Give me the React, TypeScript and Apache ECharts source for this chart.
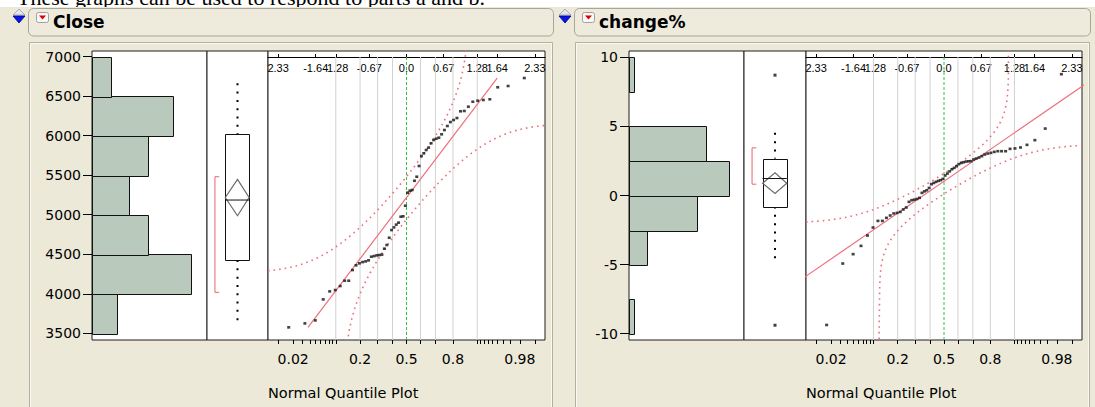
import React, { useEffect, useRef } from "react";
import * as echarts from "echarts";

// ---------------- data ----------------
const TOP_TEXT = "These graphs can be used to respond to parts a and b.";

const closeBinEdges = [3500, 4000, 4500, 5000, 5500, 6000, 6500, 7000];
const closeBinCounts = [4, 16, 9, 6, 9, 13, 3];
const closeValues = [
  3575, 3625, 3663, 3929, 4030, 4047, 4098, 4165, 4165, 4300, 4360, 4385, 4401, 4410, 4423,
  4469, 4477, 4486, 4490, 4495, 4570, 4617, 4709, 4806, 4840, 4875, 4900, 4975, 4980, 5114,
  5279, 5304, 5313, 5430, 5481, 5617, 5743, 5777, 5819, 5850, 5904, 5946, 5962, 5975, 6018,
  6072, 6123, 6173, 6199, 6224, 6309, 6313, 6367, 6430, 6443, 6452, 6461, 6613, 6629, 6730,
];
const closeBox = [3595, 4427, 5186, 6025, 6663]; // whisker low, q1, median, q3, whisker high
const closeMeanDiamond = [4987, 5218, 5448];
const closeShortestHalf = [4018, 5481];
const closeOutliers: number[] = [];
const closeFit = [5218, 920]; // mean, sd of the fitted line
const closeBand = [5211, 830, 0.128]; // centre, scale, d of the confidence band
const closeYTicks = [3500, 4000, 4500, 5000, 5500, 6000, 6500, 7000];

const changeBinEdges = [-10, -7.5, -5, -2.5, 0, 2.5, 5, 7.5, 10];
const changeBinCounts = [1, 0, 4, 15, 22, 17, 0, 1];
const changeValues = [
  -9.38, -4.93, -4.25, -3.65, -2.9, -2.32, -1.84, -1.84, -1.62, -1.45, -1.3, -1.26, -1.19, -1.01,
  -0.87, -0.46, -0.34, -0.3, -0.25, -0.17, 0.19, 0.3, 0.38, 0.55, 0.82, 0.91, 0.99, 1.06, 1.11,
  1.2, 1.45, 1.59, 1.75, 1.9, 2.0, 2.12, 2.27, 2.36, 2.41, 2.46, 2.48, 2.49, 2.61, 2.68, 2.75,
  2.85, 2.97, 3.04, 3.09, 3.16, 3.21, 3.21, 3.21, 3.38, 3.41, 3.48, 3.67, 4.01, 4.85, 8.79,
];
const changeBox = [-4.88, -0.8, 1.23, 2.68, 4.54];
const changeMeanDiamond = [0.14, 0.89, 1.64];
const changeShortestHalf = [0.82, 3.45];
const changeOutliers = [-9.4, 8.72];
const changeFit = [1.03, 2.74];
const changeBand = [0.855, 2.42, 0.12];
const changeYTicks = [-10, -5, 0, 5, 10];

const quantileTickValues = [-2.326, -1.645, -1.282, -0.674, 0, 0.674, 1.282, 1.645, 2.326];
const quantileTickLabels = ["2.33", "-1.64", "-1.28", "-0.67", "0.0", "0.67", "1.28", "1.64", "2.33"];
const probTickValues = [
  0.01, 0.02, 0.03, 0.04, 0.05, 0.06, 0.07, 0.08, 0.09, 0.1, 0.2, 0.3, 0.4, 0.5, 0.6, 0.7, 0.8,
  0.9, 0.91, 0.92, 0.93, 0.94, 0.95, 0.96, 0.97, 0.98, 0.99,
];
const probLabelValues = [0.02, 0.2, 0.5, 0.8, 0.98];
const probLabelTexts = ["0.02", "0.2", "0.5", "0.8", "0.98"];
const probGridValues = [0.1, 0.2, 0.3, 0.4, 0.6, 0.7, 0.8, 0.9];
const probCentre = 0.5;

// ---------------- helpers ----------------
function qnorm(p: number): number {
  const a = [-39.69683028665376, 220.9460984245205, -275.9285104469687, 138.357751867269, -30.66479806614716, 2.506628277459239];
  const b = [-54.47609879822406, 161.5858368580409, -155.6989798598866, 66.80131188771972, -13.28068155288572];
  const c = [-0.007784894002430293, -0.3223964580411365, -2.400758277161838, -2.549732539343734, 4.374664141464968, 2.938163982698783];
  const d = [0.007784695709041462, 0.3224671290700398, 2.445134137142996, 3.754408661907416];
  const pl = 0.02425;
  if (p < pl) {
    const q = Math.sqrt(-2 * Math.log(p));
    return (((((c[0] * q + c[1]) * q + c[2]) * q + c[3]) * q + c[4]) * q + c[5]) / ((((d[0] * q + d[1]) * q + d[2]) * q + d[3]) * q + 1);
  }
  if (p > 1 - pl) {
    const q = Math.sqrt(-2 * Math.log(1 - p));
    return -(((((c[0] * q + c[1]) * q + c[2]) * q + c[3]) * q + c[4]) * q + c[5]) / ((((d[0] * q + d[1]) * q + d[2]) * q + d[3]) * q + 1);
  }
  const q = p - 0.5;
  const r = q * q;
  return ((((((a[0] * r + a[1]) * r + a[2]) * r + a[3]) * r + a[4]) * r + a[5]) * q) / (((((b[0] * r + b[1]) * r + b[2]) * r + b[3]) * r + b[4]) * r + 1);
}
function pnorm(z: number): number {
  const t = 1 / (1 + 0.2316419 * Math.abs(z));
  const dd = 0.3989423 * Math.exp((-z * z) / 2);
  const pr = dd * t * (0.3193815 + t * (-0.3565638 + t * (1.781478 + t * (-1.821256 + t * 1.330274))));
  return z > 0 ? 1 - pr : pr;
}
function nearestLabel(v: number, vals: number[], labels: string[]) {
  let bi = 0;
  let bd = Infinity;
  vals.forEach((x, i) => {
    const dd = Math.abs(x - v);
    if (dd < bd) { bd = dd; bi = i; }
  });
  return labels[bi];
}

const Z_MIN = -2.51;
const Z_MAX = 2.51;
const TOP = 51;
const H = 289;
const PINK = "#EF6E7C";
const SANS = "DejaVu Sans";

type Spec = {
  histLeft: number; histWidth: number; boxWidth: number; qqWidth: number;
  yMin: number; yMax: number; yTicks: number[]; histMax: number;
  edges: number[]; counts: number[]; values: number[];
  box: number[]; diamond: number[]; shortest: number[]; outliers: number[];
  fit: number[]; band: number[];
};

function buildPanel(s: Spec, gi: number, xi: number, yi: number) {
  const boxLeft = s.histLeft + s.histWidth;
  const qqLeft = boxLeft + s.boxWidth;
  const grids = [
    { left: s.histLeft, top: TOP, width: s.histWidth, height: H },
    { left: boxLeft, top: TOP, width: s.boxWidth, height: H },
    { left: qqLeft, top: TOP, width: s.qqWidth, height: H },
  ].map((g) => ({ ...g, show: true, backgroundColor: "#ffffff", borderColor: "#1e1e1e", borderWidth: 1, containLabel: false, outerBoundsMode: "none" }));

  const xAxes = [
    { gridIndex: gi, type: "value", min: 0, max: s.histMax, show: false, axisLine: { onZero: false } },
    { gridIndex: gi + 1, type: "value", min: 0, max: 1, show: false, axisLine: { onZero: false } },
    {
      gridIndex: gi + 2, type: "value", position: "top", offset: -6, min: Z_MIN, max: Z_MAX,
      axisLine: { show: true, onZero: false, lineStyle: { color: "#000", width: 1 } },
      axisTick: { show: true, inside: false, length: 3, customValues: quantileTickValues, lineStyle: { color: "#000" } },
      axisLabel: {
        show: true, inside: true, margin: 5, customValues: quantileTickValues,
        formatter: (v: number) => nearestLabel(v, quantileTickValues, quantileTickLabels),
        fontSize: 11, fontFamily: "Liberation Sans", color: "#000",
      },
      splitLine: { show: false },
    },
    {
      gridIndex: gi + 2, type: "value", position: "bottom", min: Z_MIN, max: Z_MAX,
      axisLine: { show: false, onZero: false },
      axisTick: { show: true, length: 4, customValues: probTickValues.map(qnorm), lineStyle: { color: "#000" } },
      axisLabel: {
        show: true, margin: 12, customValues: probLabelValues.map(qnorm),
        formatter: (v: number) => nearestLabel(v, probLabelValues.map(qnorm), probLabelTexts),
        fontSize: 14, fontFamily: SANS, color: "#000",
      },
      splitLine: { show: false },
    },
  ];
  const yAxes = [
    {
      gridIndex: gi, type: "value", min: s.yMin, max: s.yMax,
      axisLine: { show: false, onZero: false },
      axisTick: { show: true, length: 9, customValues: s.yTicks, lineStyle: { color: "#000" } },
      axisLabel: { customValues: s.yTicks, formatter: (v: number) => String(v), fontSize: 14, fontFamily: SANS, color: "#000", margin: 11 },
      splitLine: { show: false },
    },
    { gridIndex: gi + 1, type: "value", min: s.yMin, max: s.yMax, show: false, axisLine: { show: false, onZero: false }, splitLine: { show: false } },
    { gridIndex: gi + 2, type: "value", min: s.yMin, max: s.yMax, show: false, axisLine: { show: false, onZero: false }, splitLine: { show: false } },
  ];

  const histData = s.counts
    .map((c, i) => [s.edges[i], s.edges[i + 1], c])
    .filter((d) => d[2] > 0);
  const n = s.values.length;
  const points = s.values.map((v, i) => [qnorm((i + 1) / (n + 1)), v]);
  const [fm, fsd] = s.fit;
  const vMin = Math.min(...s.values);
  const vMax = Math.max(...s.values);
  const fitData = [[(vMin - fm) / fsd, vMin], [(vMax - fm) / fsd, vMax]];
  const [bc, bs, bd] = s.band;
  const upper: number[][] = [];
  const lower: number[][] = [];
  for (let k = 0; k <= 502; k++) {
    const z = Z_MIN + k * 0.01;
    const p = pnorm(z);
    upper.push([z, bc + bs * qnorm(Math.min(p + bd, 1 - 1e-9))]);
    lower.push([z, bc + bs * qnorm(Math.max(p - bd, 1e-9))]);
  }
  const yTopLine = s.yMax - (s.yMax - s.yMin) * (6 / H);
  const centreZ = qnorm(probCentre);

  const series: any[] = [
    {
      type: "custom", xAxisIndex: xi, yAxisIndex: yi, silent: true, z: 3, data: histData,
      renderItem: (_p: any, api: any) => {
        const a = api.coord([0, api.value(1)]);
        const b = api.coord([api.value(2), api.value(0)]);
        return {
          type: "rect",
          shape: { x: Math.round(a[0]) + 0.5, y: Math.round(a[1]) + 0.5, width: Math.round(b[0] - a[0]), height: Math.round(b[1] - a[1]) },
          style: { fill: "#B9C9BB", stroke: "#111", lineWidth: 1 },
        };
      },
    },
    {
      type: "custom", xAxisIndex: xi + 1, yAxisIndex: yi + 1, silent: true, z: 3,
      data: [[0.5, s.box[2]]],
      renderItem: (_p: any, api: any) => {
        const [wLo, q1, med, q3, wHi] = s.box;
        const [dLo, mean, dHi] = s.diamond;
        const [sLo, sHi] = s.shortest;
        const c = (x: number, y: number) => api.coord([x, y]);
        const L = 0.3, R = 0.69, M = 0.5, BL = 0.13, BR = 0.2;
        const tl = c(L, q3), br = c(R, q1);
        const mTop = c(M, wHi), mQ3 = c(M, q3), mQ1 = c(M, q1), mBot = c(M, wLo);
        return {
          type: "group",
          children: [
            { type: "polyline", shape: { points: [c(BR, sHi), c(BL, sHi), c(BL, sLo), c(BR, sLo)] }, style: { stroke: "#F0606E", lineWidth: 1, fill: null } },
            { type: "line", shape: { x1: mTop[0], y1: mTop[1], x2: mQ3[0], y2: mQ3[1] }, style: { stroke: "#000", lineWidth: 2, lineDash: [2, 6.3] } },
            { type: "line", shape: { x1: mQ1[0], y1: mQ1[1], x2: mBot[0], y2: mBot[1] }, style: { stroke: "#000", lineWidth: 2, lineDash: [2, 6.3] } },
            { type: "rect", shape: { x: Math.round(tl[0]) + 0.5, y: Math.round(tl[1]) + 0.5, width: Math.round(br[0] - tl[0]), height: Math.round(br[1] - tl[1]) }, style: { fill: "#fff", stroke: "#111", lineWidth: 1 } },
            { type: "polygon", shape: { points: [c(L, mean), c(M, dHi), c(R, mean), c(M, dLo)] }, style: { fill: null, stroke: "#6b6b6b", lineWidth: 1.2 } },
            { type: "line", shape: { x1: c(L, med)[0], y1: c(L, med)[1], x2: c(R, med)[0], y2: c(R, med)[1] }, style: { stroke: "#111", lineWidth: 1 } },
          ],
        };
      },
    },
    {
      type: "scatter", xAxisIndex: xi + 1, yAxisIndex: yi + 1, silent: true, z: 4,
      symbol: "rect", symbolSize: [3, 3], itemStyle: { color: "#111" },
      data: s.outliers.map((v) => [0.5, v]),
    },
    ...probGridValues.map((p) => ({
      type: "line", xAxisIndex: xi + 2, yAxisIndex: yi + 2, silent: true, z: 2, showSymbol: false, symbol: "none",
      data: [[qnorm(p), yTopLine], [qnorm(p), s.yMin]],
      lineStyle: { color: "#D2D2D2", width: 1 },
    })),
    {
      type: "line", xAxisIndex: xi + 2, yAxisIndex: yi + 2, silent: true, z: 2, showSymbol: false, symbol: "none",
      data: [[centreZ, yTopLine], [centreZ, s.yMin]],
      lineStyle: { color: "#2FC23A", width: 1, type: [3, 2] },
    },
    { type: "line", xAxisIndex: xi + 2, yAxisIndex: yi + 2, silent: true, z: 3, data: upper, showSymbol: false, symbol: "none", lineStyle: { color: PINK, width: 1.6, type: [1.6, 4] } },
    { type: "line", xAxisIndex: xi + 2, yAxisIndex: yi + 2, silent: true, z: 3, data: lower, showSymbol: false, symbol: "none", lineStyle: { color: PINK, width: 1.6, type: [1.6, 4] } },
    { type: "line", xAxisIndex: xi + 2, yAxisIndex: yi + 2, silent: true, z: 3, data: fitData, showSymbol: false, symbol: "none", lineStyle: { color: PINK, width: 1.2 } },
    {
      type: "scatter", xAxisIndex: xi + 2, yAxisIndex: yi + 2, silent: true, z: 5,
      symbol: "rect", symbolSize: [3, 2.6], itemStyle: { color: "#111" }, data: points,
    },
  ];
  return { grids, xAxes, yAxes, series, qqLeft };
}

function headerGraphics(boxX: number, boxRight: number, arrowX: number) {
  return [
    { type: "rect", shape: { x: boxX + 0.5, y: 8.5, width: boxRight - boxX, height: 27.5, r: 5 }, style: { fill: "#EEEBDD", stroke: "#A9A698", lineWidth: 1 }, z: 1 },
    { type: "polygon", shape: { points: [[arrowX + 6, 9], [arrowX + 12, 15], [arrowX, 15]] }, style: { fill: "#E4E4EE", stroke: "#9A9AB0", lineWidth: 0.8 }, z: 1 },
    { type: "polygon", shape: { points: [[arrowX, 16], [arrowX + 12, 16], [arrowX + 6, 23]] }, style: { fill: "#0A14E6", stroke: "#00008A", lineWidth: 0.8 }, z: 1 },
    { type: "rect", shape: { x: boxX + 8.5, y: 12.5, width: 12, height: 10, r: 2 }, style: { fill: "#F7F7F7", stroke: "#A0A0A0", lineWidth: 1 }, z: 2 },
    { type: "polygon", shape: { points: [[boxX + 11, 15.5], [boxX + 18, 15.5], [boxX + 14.5, 19.5]] }, style: { fill: "#E00000" }, z: 3 },
    { type: "rect", shape: { x: boxX + 1.5, y: 42.5, width: boxRight - boxX - 2, height: 380 }, style: { fill: null, stroke: "#B3B0A2", lineWidth: 1 }, z: 1 },
    { type: "rect", shape: { x: boxX + 2.5, y: 43.5, width: boxRight - boxX - 4, height: 380 }, style: { fill: null, stroke: "#FAF9F3", lineWidth: 1 }, z: 1 },
  ];
}

export default function App() {
  const ref = useRef<HTMLDivElement>(null);
  useEffect(() => {
    if (!ref.current) return;
    const chart = echarts.init(ref.current, undefined, { renderer: "svg" });

    const left = buildPanel({
      histLeft: 92, histWidth: 115, boxWidth: 61, qqWidth: 277,
      yMin: 3415, yMax: 7072, yTicks: closeYTicks, histMax: 18.55,
      edges: closeBinEdges, counts: closeBinCounts, values: closeValues,
      box: closeBox, diamond: closeMeanDiamond, shortest: closeShortestHalf, outliers: closeOutliers,
      fit: closeFit, band: closeBand,
    }, 0, 0, 0);
    const right = buildPanel({
      histLeft: 629, histWidth: 115, boxWidth: 62, qqWidth: 276,
      yMin: -10.47, yMax: 10.47, yTicks: changeYTicks, histMax: 25.3,
      edges: changeBinEdges, counts: changeBinCounts, values: changeValues,
      box: changeBox, diamond: changeMeanDiamond, shortest: changeShortestHalf, outliers: changeOutliers,
      fit: changeFit, band: changeBand,
    }, 3, 4, 3);

    const graphics: any[] = [
      { type: "text", style: { text: TOP_TEXT, x: 17, y: -2.5, font: '22px "Liberation Serif"', fill: "#000", verticalAlign: "middle" }, z: -101, silent: true },
      { type: "rect", shape: { x: 0, y: 7, width: 1095, height: 400 }, style: { fill: "#ECE9D8" }, z: -100, silent: true },
      ...headerGraphics(28, 553, 13),
      ...headerGraphics(574, 1090, 559),
      { type: "text", style: { text: "Close", x: 53, y: 21.5, font: `bold 17px "${SANS}"`, fill: "#000", verticalAlign: "middle" }, z: 3 },
      { type: "text", style: { text: "change%", x: 599, y: 21.5, font: `bold 17px "${SANS}"`, fill: "#000", verticalAlign: "middle" }, z: 3 },
      { type: "text", style: { text: "Normal Quantile Plot", x: left.qqLeft, y: 393, font: `14.5px "${SANS}"`, fill: "#000", verticalAlign: "middle" }, z: 3 },
      { type: "text", style: { text: "Normal Quantile Plot", x: right.qqLeft, y: 393, font: `14.5px "${SANS}"`, fill: "#000", verticalAlign: "middle" }, z: 3 },
    ];

    chart.setOption({
      animation: false,
      backgroundColor: "#ffffff",
      grid: [...left.grids, ...right.grids],
      xAxis: [...left.xAxes, ...right.xAxes],
      yAxis: [...left.yAxes, ...right.yAxes],
      series: [...left.series, ...right.series],
      graphic: { elements: graphics },
    });
    return () => chart.dispose();
  }, []);
  return <div ref={ref} style={{ position: "fixed", left: 0, top: 0, width: 1095, height: 407 }} />;
}
